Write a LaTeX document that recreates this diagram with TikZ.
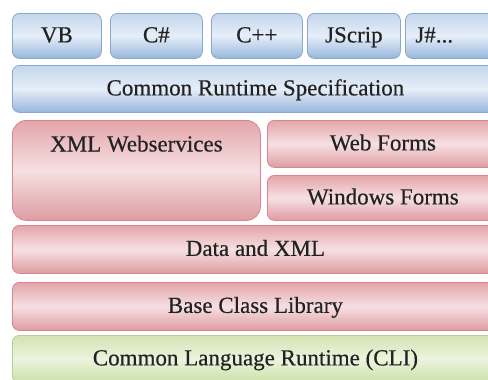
\documentclass[tikz,border=0pt]{standalone}
\usepackage{fontspec}
\setmainfont{Liberation Serif}[FakeBold=0.4]
\definecolor{bluborder}{RGB}{138,168,204}
\definecolor{blutop}{RGB}{196,214,237}
\definecolor{blumid}{RGB}{230,238,248}
\definecolor{blubot}{RGB}{150,182,220}
\definecolor{redborder}{RGB}{212,136,142}
\definecolor{redtop}{RGB}{228,165,170}
\definecolor{redmid}{RGB}{246,224,226}
\definecolor{redbot}{RGB}{222,156,162}
\definecolor{grnborder}{RGB}{182,207,140}
\definecolor{grntop}{RGB}{210,227,178}
\definecolor{grnmid}{RGB}{236,244,222}
\definecolor{grnbot}{RGB}{204,224,168}
\definecolor{textgray}{RGB}{34,34,34}

\begin{document}
\begin{tikzpicture}[x=1pt,y=-1pt,
txt/.style={font=\fontsize{23}{27}\selectfont,text=textgray,text height=17pt,text depth=4pt},
box/.style={draw=#1border,line width=0.8pt,rounded corners=7pt,shading=axis,top color=#1top,bottom color=#1bot,middle color=#1mid,anchor=north west,inner sep=0pt,txt},
lang/.style={box=blu,minimum height=45pt},
layer/.style={box=#1,minimum width=486pt,minimum height=48pt}]
\clip (0,0) rectangle (488,380);
\fill[white] (0,0) rectangle (488,380);
% languages
\node[lang,minimum width=89pt] (vb) at (12,13) {VB};
\node[lang,minimum width=92pt] (csharp) at (110,13) {C\#};
\node[lang,minimum width=91pt] (cpp) at (211,13) {C++};
\node[lang,minimum width=93pt] (jscrip) at (307,13) {JScrip};
\node[lang,text width=75pt,align=left,inner xsep=10pt] (jsharp) at (405,13) {J\#...};
% runtime spec
\node[layer=blu,minimum height=47pt] (crs) at (12,65) {Common Runtime Specification};
% frameworks
\node[box=red,minimum width=248pt,minimum height=100pt,rounded corners=14pt,
  label={[txt,anchor=center,yshift=-25pt]north:XML Webservices}] (xmlws) at (12,120) {};
\node[box=red,minimum width=231pt,minimum height=47pt] (webforms) at (267,120) {Web Forms};
\node[box=red,minimum width=231pt,minimum height=45pt] (winforms) at (267,175) {Windows Forms};
% libraries
\node[layer=red] (dataxml) at (12,225) {Data and XML};
\node[layer=red] (bcl) at (12,282) {Base Class Library};
\node[layer=grn,minimum height=47pt] (clr) at (12,335) {Common Language Runtime (CLI)};
\end{tikzpicture}
\end{document}
